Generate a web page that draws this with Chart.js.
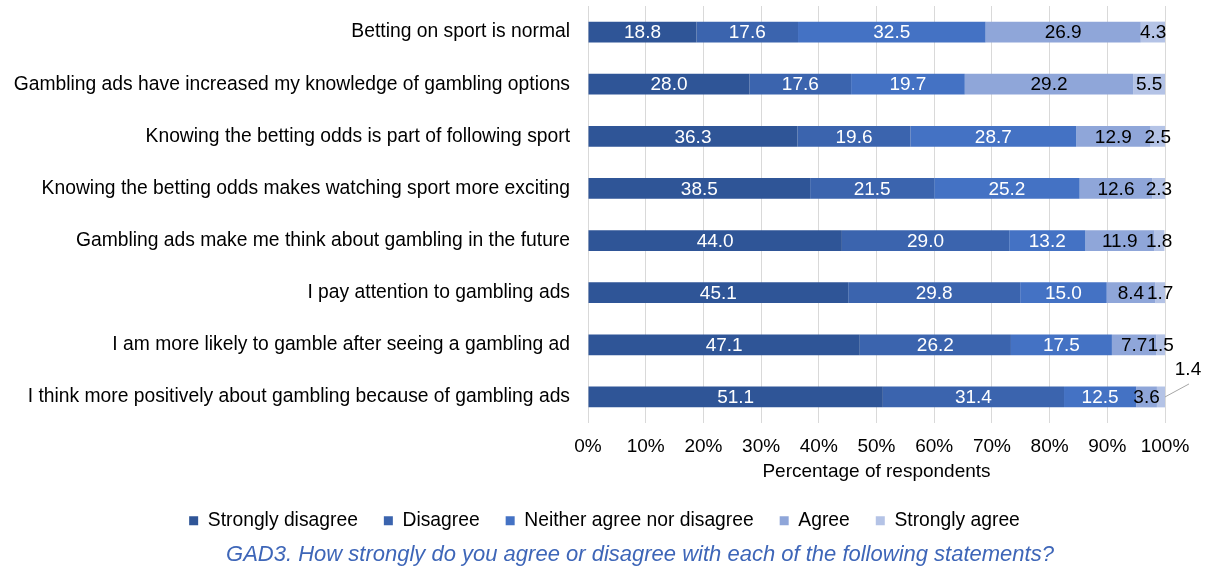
<!DOCTYPE html>
<html>
<head>
<meta charset="utf-8">
<script src="https://cdn.jsdelivr.net/npm/chart.js@4/dist/chart.umd.min.js"></script>
<style>
  html, body { margin: 0; padding: 0; background: #ffffff; }
  #wrap { position: relative; width: 1209px; height: 569px; }
  #caption {
    position: absolute; left: 0; width: 1280px; top: 541px;
    text-align: center; font: italic 22px "Liberation Sans", Arial, sans-serif;
    color: #3E66B8; line-height: 26px; white-space: nowrap;
  }
</style>
</head>
<body>
<div id="wrap">
  <canvas id="chart" width="1209" height="569"></canvas>
  <div id="caption">GAD3. How strongly do you agree or disagree with each of the following statements?</div>
</div>
<script>
// Survey statements (one bar per statement)
const statements = [
  'Betting on sport is normal',
  'Gambling ads have increased my knowledge of gambling options',
  'Knowing the betting odds is part of following sport',
  'Knowing the betting odds makes watching sport more exciting',
  'Gambling ads make me think about gambling in the future',
  'I pay attention to gambling ads',
  'I am more likely to gamble after seeing a gambling ad',
  'I think more positively about gambling because of gambling ads'
];

// Response shares (% of respondents)
const stronglyDisagree = [18.8, 28.0, 36.3, 38.5, 44.0, 45.1, 47.1, 51.1];
const disagree         = [17.6, 17.6, 19.6, 21.5, 29.0, 29.8, 26.2, 31.4];
const neither          = [32.5, 19.7, 28.7, 25.2, 13.2, 15.0, 17.5, 12.5];
const agree            = [26.9, 29.2, 12.9, 12.6, 11.9, 8.4, 7.7, 3.6];
const stronglyAgree    = [4.3, 5.5, 2.5, 2.3, 1.8, 1.7, 1.5, 1.4];

const seriesNames = ['Strongly disagree', 'Disagree', 'Neither agree nor disagree', 'Agree', 'Strongly agree'];
const percentTicks = ['0%', '10%', '20%', '30%', '40%', '50%', '60%', '70%', '80%', '90%', '100%'];

// [statement index, series index] of values labelled outside the bar with a leader line
const calloutLabels = [[7, 4]];

const FONT = '"Liberation Sans", Arial, sans-serif';
const seriesColors = ['#2F5597', '#3B64AE', '#4472C4', '#8FA6D9', '#B4C3E6'];
const labelColors = ['#ffffff', '#ffffff', '#ffffff', '#000000', '#000000'];

const valueLabels = {
  id: 'valueLabels',
  afterDatasetsDraw(chart) {
    const ctx = chart.ctx;
    ctx.save();
    ctx.font = '19px ' + FONT;
    ctx.textAlign = 'center';
    ctx.textBaseline = 'middle';
    chart.data.datasets.forEach((ds, di) => {
      const meta = chart.getDatasetMeta(di);
      meta.data.forEach((bar, i) => {
        const v = ds.data[i];
        const p = bar.getProps(['x', 'y', 'base'], true);
        const text = v.toFixed(1);
        const isCallout = calloutLabels.some(c => c[0] === i && c[1] === di);
        if (isCallout) {
          const x0 = Math.min(p.x, chart.chartArea.right);
          ctx.strokeStyle = '#A6A6A6';
          ctx.lineWidth = 1;
          ctx.beginPath();
          ctx.moveTo(x0, p.y);
          ctx.lineTo(x0 + 24, p.y - 13);
          ctx.stroke();
          ctx.fillStyle = '#000000';
          ctx.fillText(text, x0 + 23, p.y - 27);
        } else {
          ctx.fillStyle = labelColors[di];
          ctx.fillText(text, (p.x + p.base) / 2, p.y + 1);
        }
      });
    });
    ctx.restore();
  }
};

const seriesValues = [stronglyDisagree, disagree, neither, agree, stronglyAgree];

new Chart(document.getElementById('chart'), {
  type: 'bar',
  data: {
    labels: statements,
    datasets: seriesValues.map((vals, k) => ({
      label: seriesNames[k],
      data: vals,
      backgroundColor: seriesColors[k],
      borderWidth: 0,
      barPercentage: 0.4,
      categoryPercentage: 1.0
    }))
  },
  options: {
    indexAxis: 'y',
    responsive: false,
    animation: false,
    events: [],
    layout: { padding: { top: 6, right: 0, bottom: 28.5, left: 0 } },
    scales: {
      x: {
        stacked: true,
        min: 0,
        max: 100,
        ticks: {
          stepSize: 10,
          padding: 14,
          color: '#000000',
          font: { family: FONT, size: 19, lineHeight: 1 },
          callback: (v, idx) => percentTicks[idx]
        },
        grid: { color: '#D9D9D9', lineWidth: 1, drawTicks: false },
        border: { display: false },
        title: {
          display: true,
          text: 'Percentage of respondents',
          color: '#000000',
          font: { family: FONT, size: 19, lineHeight: 1 },
          padding: { top: 0, bottom: 3.5 }
        },
        afterFit(scale) {
          scale.height = 62.2;
          scale.paddingRight = 44;
        }
      },
      y: {
        stacked: true,
        ticks: {
          padding: 18,
          color: '#000000',
          font: { family: FONT, size: 19.3 }
        },
        grid: { display: false, drawTicks: false },
        border: { display: false },
        afterFit(scale) {
          scale.width = 588;
          scale.paddingTop = 0;
          scale.paddingBottom = 0;
        }
      }
    },
    plugins: {
      legend: {
        position: 'bottom',
        labels: {
          boxWidth: 9,
          boxHeight: 9,
          padding: 26,
          color: '#000000',
          font: { family: FONT, size: 19.3 }
        }
      },
      tooltip: { enabled: false }
    }
  },
  plugins: [valueLabels]
});
</script>
</body>
</html>
